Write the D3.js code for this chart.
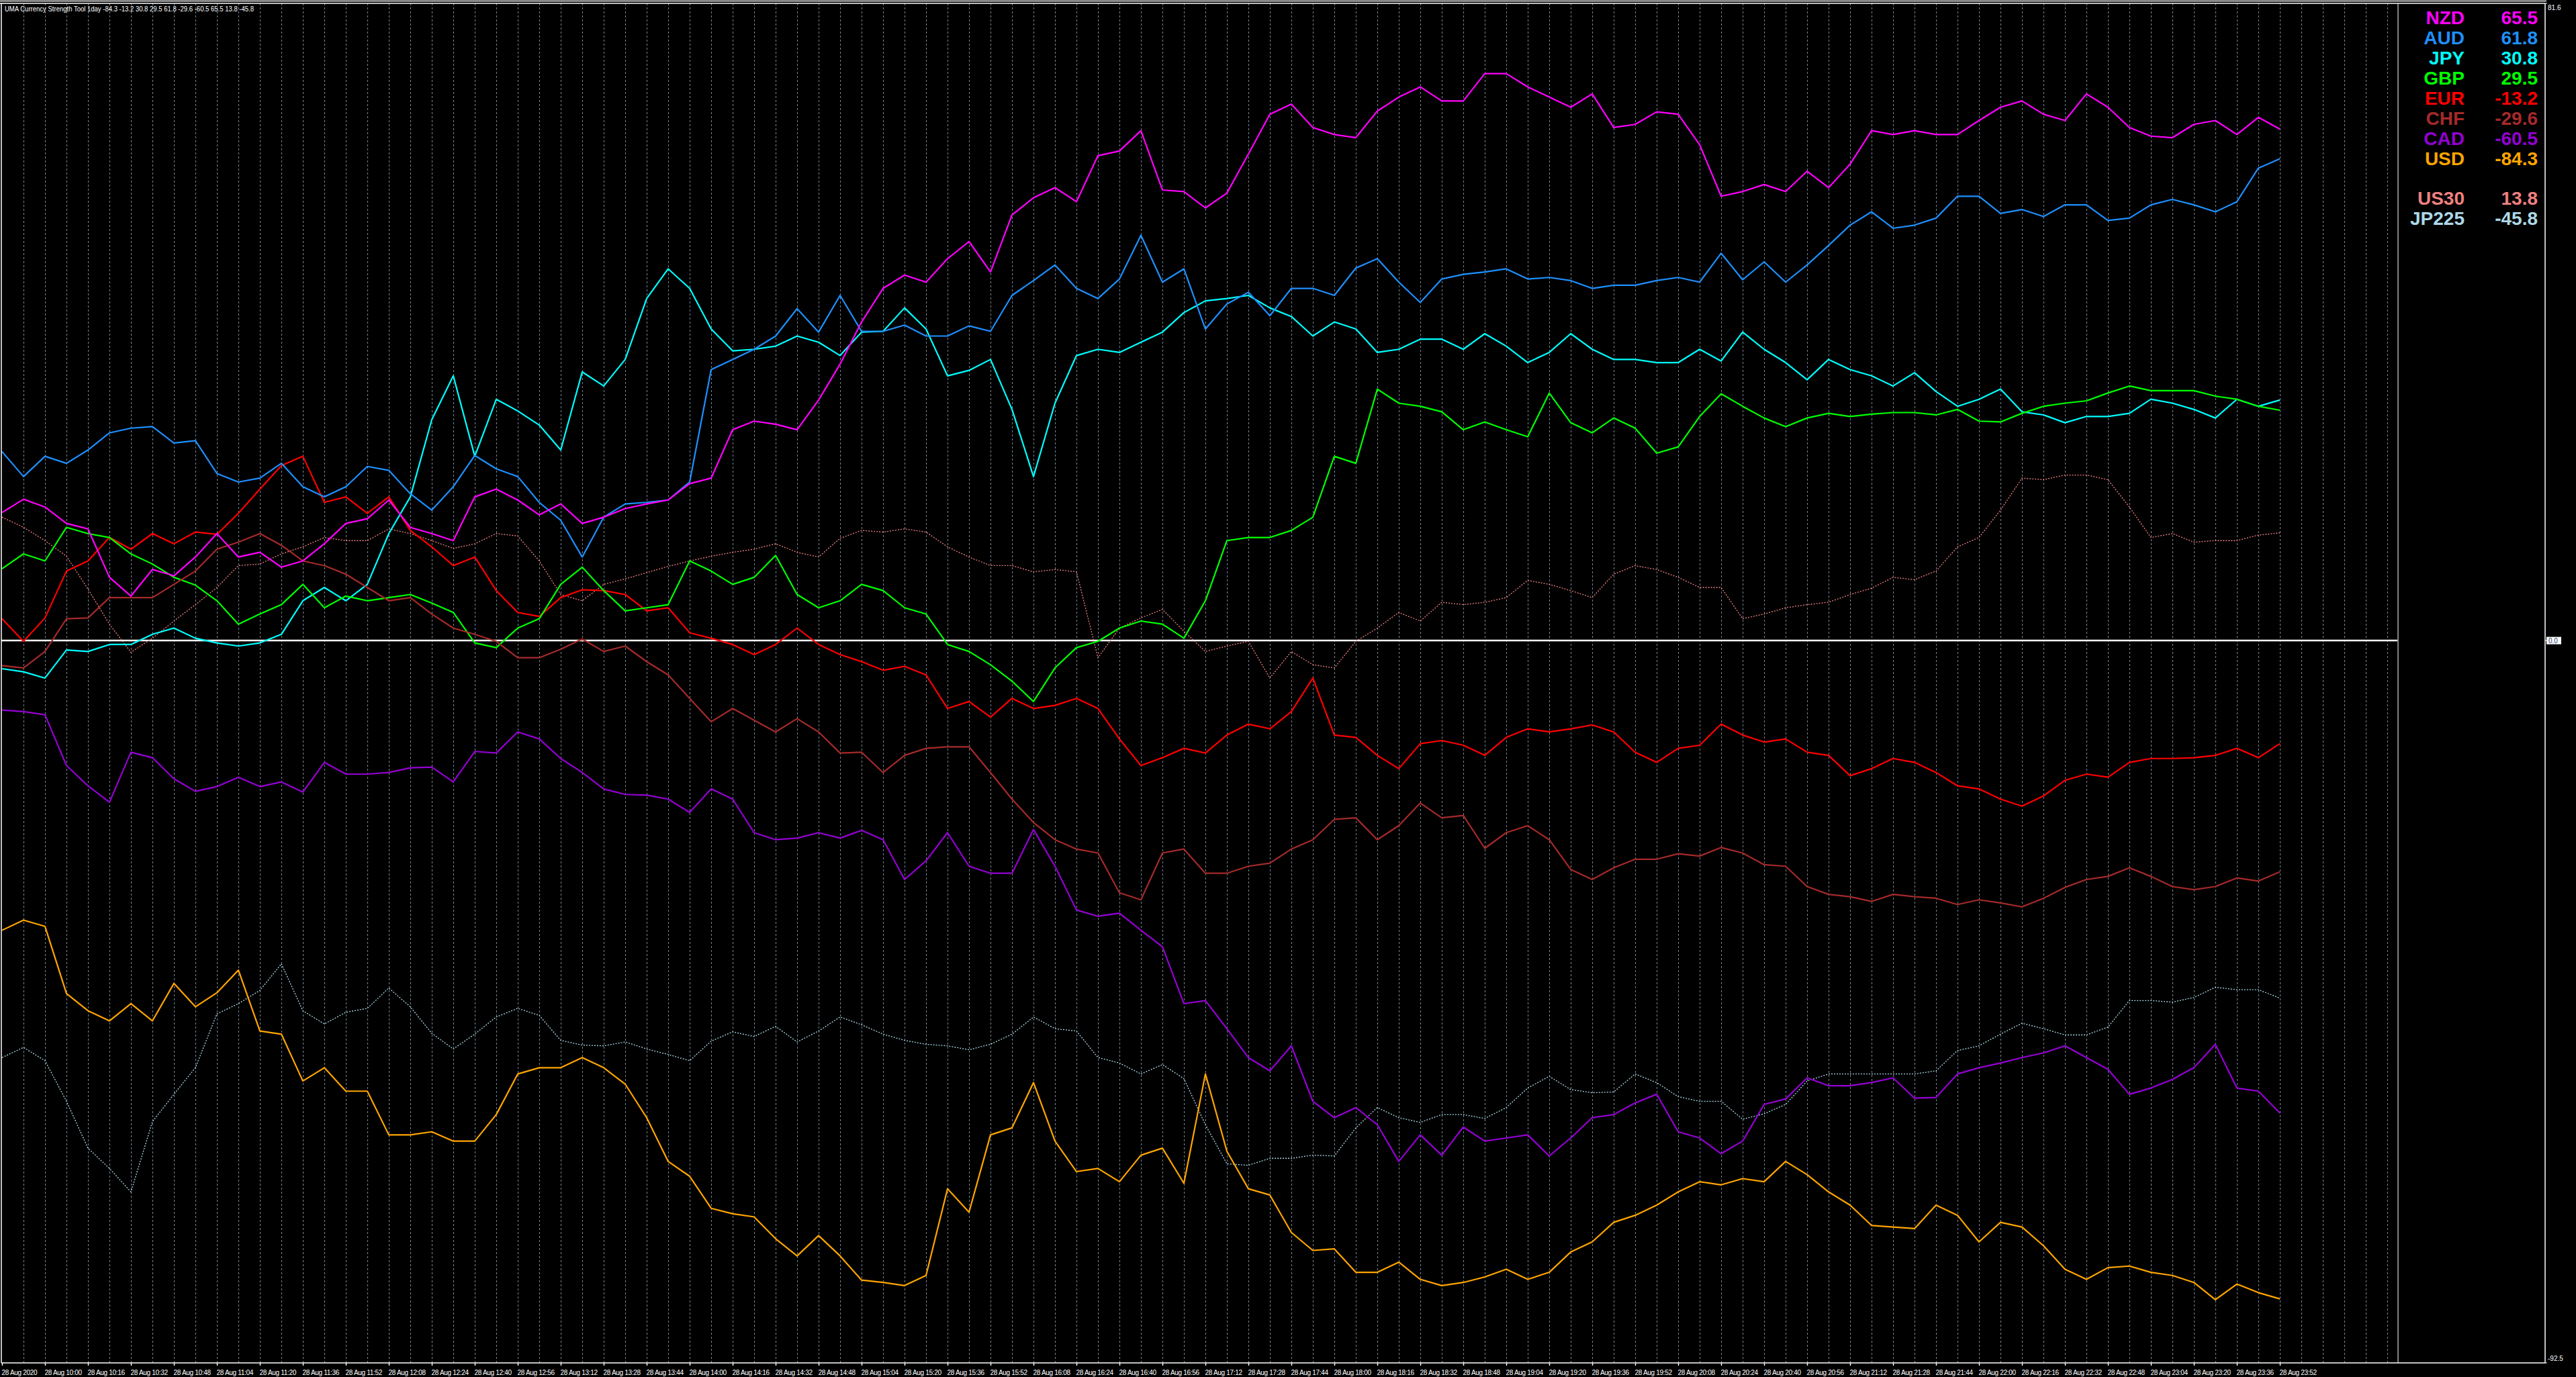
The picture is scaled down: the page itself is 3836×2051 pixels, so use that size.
<!DOCTYPE html>
<html>
<head>
<meta charset="utf-8">
<script src="https://cdn.jsdelivr.net/npm/d3@7"></script>
<style>
  html, body { margin: 0; padding: 0; background: #000; overflow: hidden; }
  svg { display: block; }
</style>
</head>
<body>
<svg id="chart" width="3836" height="2051"></svg>
<script>
// ---------- DATA (sampled every 8 minutes from 28 Aug 2020 09:44) ----------
const startLabel = "28 Aug 2020";
const sampleStepMin = 8;
const tickLabels = ["28 Aug 2020","28 Aug 10:00","28 Aug 10:16","28 Aug 10:32","28 Aug 10:48","28 Aug 11:04","28 Aug 11:20","28 Aug 11:36","28 Aug 11:52","28 Aug 12:08","28 Aug 12:24","28 Aug 12:40","28 Aug 12:56","28 Aug 13:12","28 Aug 13:28","28 Aug 13:44","28 Aug 14:00","28 Aug 14:16","28 Aug 14:32","28 Aug 14:48","28 Aug 15:04","28 Aug 15:20","28 Aug 15:36","28 Aug 15:52","28 Aug 16:08","28 Aug 16:24","28 Aug 16:40","28 Aug 16:56","28 Aug 17:12","28 Aug 17:28","28 Aug 17:44","28 Aug 18:00","28 Aug 18:16","28 Aug 18:32","28 Aug 18:48","28 Aug 19:04","28 Aug 19:20","28 Aug 19:36","28 Aug 19:52","28 Aug 20:08","28 Aug 20:24","28 Aug 20:40","28 Aug 20:56","28 Aug 21:12","28 Aug 21:28","28 Aug 21:44","28 Aug 22:00","28 Aug 22:16","28 Aug 22:32","28 Aug 22:48","28 Aug 23:04","28 Aug 23:20","28 Aug 23:36","28 Aug 23:52"];
const tickStepMin = 16;
const yAxisLabels = [81.6, 0.0, -92.5];

const USD = [-37.1,-35.8,-36.6,-45.2,-47.4,-48.7,-46.5,-48.7,-43.9,-46.9,
-45.1,-42.2,-50.0,-50.4,-56.4,-54.7,-57.7,-57.7,-63.3,-63.3,
-62.9,-64.1,-64.1,-60.7,-55.5,-54.7,-54.7,-53.4,-54.7,-56.8,
-61.1,-66.7,-68.6,-72.7,-73.4,-73.8,-76.6,-78.8,-76.2,-78.8,
-81.9,-82.2,-82.6,-81.3,-70.2,-73.2,-63.3,-62.4,-56.6,-64.1,
-68.0,-67.6,-69.3,-65.9,-65.0,-69.5,-55.5,-65.4,-70.2,-71.0,
-75.8,-78.1,-77.9,-80.9,-80.9,-79.6,-81.8,-82.6,-82.2,-81.5,
-80.5,-81.8,-80.9,-78.3,-77.0,-74.5,-73.6,-72.3,-70.6,-69.3,
-69.7,-68.9,-69.3,-66.7,-68.4,-70.6,-72.3,-74.9,-75.1,-75.3,
-72.3,-73.6,-77.0,-74.5,-75.1,-77.5,-80.5,-81.8,-80.3,-80.1,
-80.9,-81.3,-82.2,-84.4,-82.4,-83.5,-84.3];

const EUR = [2.8,-0.1,2.9,8.9,10.2,13.2,11.7,13.7,12.4,13.9,
13.6,16.3,19.4,22.4,23.6,17.7,18.4,16.3,18.4,14.1,
12.0,9.6,10.7,6.4,3.6,3.1,5.5,6.5,6.4,5.9,
3.8,4.2,1.0,0.3,-0.5,-1.8,-0.5,1.6,-0.5,-1.8,
-2.7,-3.8,-3.3,-4.4,-8.7,-7.8,-9.8,-7.4,-8.7,-8.3,
-7.4,-8.7,-12.6,-16.0,-15.0,-13.8,-14.4,-12.1,-10.7,-11.3,
-9.1,-4.8,-12.1,-12.4,-14.7,-16.4,-13.2,-12.8,-13.4,-14.7,
-12.4,-11.3,-11.7,-11.3,-10.8,-11.7,-14.3,-15.6,-13.8,-13.4,
-10.7,-12.1,-13.0,-12.6,-14.3,-14.7,-17.3,-16.4,-15.1,-15.6,
-16.9,-18.6,-19.0,-20.3,-21.2,-19.9,-17.9,-17.1,-17.5,-15.6,
-15.1,-15.1,-15.0,-14.7,-13.8,-15.0,-13.2];

const JPY = [-3.6,-4.0,-4.8,-1.2,-1.4,-0.5,-0.5,0.8,1.6,0.3,
-0.3,-0.7,-0.3,0.8,5.1,6.8,5.1,7.2,13.7,18.4,
28.3,33.9,23.6,30.9,29.4,27.6,24.4,34.4,32.6,36.0,
43.8,47.6,45.1,39.9,37.1,37.3,37.7,39.0,38.2,36.5,
39.5,39.6,42.6,39.9,33.9,34.6,36.0,29.6,21.0,30.4,
36.5,37.3,36.9,38.2,39.5,42.0,43.5,43.8,44.2,42.6,
41.5,39.0,40.8,39.9,36.9,37.3,38.6,38.6,37.3,39.3,
37.7,35.6,36.9,39.3,37.3,36.0,36.0,35.6,35.6,37.3,
35.8,39.5,37.3,35.6,33.4,36.0,34.7,33.9,32.6,34.3,
31.9,30.0,30.9,32.2,29.3,28.9,27.9,28.7,28.7,29.1,
30.9,30.4,29.6,28.5,30.9,30.0,30.8];

const GBP = [9.2,11.1,10.2,14.5,13.7,13.2,11.1,9.8,8.1,7.1,
5.1,2.1,3.4,4.6,7.2,4.2,5.7,5.1,5.5,5.9,
4.8,3.6,-0.3,-0.9,1.6,2.8,7.2,9.4,6.4,3.8,
4.2,4.6,10.2,8.9,7.2,8.1,10.9,5.9,4.2,5.1,
7.2,6.4,4.2,3.4,-0.5,-1.4,-3.1,-5.2,-7.8,-3.5,
-0.9,-0.1,1.6,2.5,2.1,0.3,5.1,12.8,13.2,13.2,
14.1,15.8,23.6,22.7,32.2,30.4,30.0,29.3,27.0,28.0,
27.0,26.1,31.7,27.9,26.6,28.5,27.2,24.0,24.8,28.7,
31.6,30.0,28.5,27.4,28.5,29.1,28.7,29.0,29.2,29.2,
28.9,29.6,28.1,28.0,29.1,30.0,30.4,30.7,31.7,32.6,
32.0,32.0,32.0,31.3,30.9,30.0,29.5];

const AUD = [24.2,21.0,23.6,22.7,24.4,26.6,27.2,27.4,25.3,25.6,
21.4,20.3,20.8,22.7,19.7,18.4,19.7,22.3,21.8,18.8,
16.7,19.7,23.7,22.0,21.0,17.7,15.4,10.7,15.8,17.5,
17.7,18.0,20.3,34.7,36.0,37.3,39.0,42.5,39.5,44.2,
39.6,39.6,40.4,39.0,39.0,40.3,39.6,44.2,46.1,48.1,
45.1,43.8,46.3,51.9,45.9,47.6,39.9,43.1,44.6,41.6,
45.1,45.1,44.2,47.7,48.9,45.9,43.3,46.3,46.9,47.2,
47.6,46.3,46.5,46.1,45.1,45.5,45.5,46.1,46.5,45.9,
49.6,46.2,48.5,45.9,48.1,50.6,53.2,54.9,52.8,53.2,
54.1,56.9,56.9,54.7,55.2,54.3,55.8,55.8,53.8,54.1,
55.8,56.5,55.8,54.9,56.2,60.5,61.7];

const CHF = [-3.2,-3.5,-1.4,2.8,2.9,5.5,5.5,5.5,7.2,8.9,
11.7,12.6,13.7,12.2,10.2,9.6,8.5,6.8,5.1,5.5,
3.4,1.6,0.8,-0.1,-2.2,-2.2,-1.1,0.2,-1.4,-0.7,
-2.7,-4.4,-7.4,-10.4,-8.7,-10.2,-11.7,-10.0,-11.7,-14.4,
-14.3,-16.9,-14.7,-13.8,-13.6,-13.6,-16.9,-20.3,-23.3,-25.5,
-26.7,-27.2,-32.3,-33.2,-27.2,-26.7,-29.8,-29.8,-28.9,-28.5,
-26.7,-25.5,-22.9,-22.7,-25.5,-23.7,-20.8,-22.7,-22.4,-26.6,
-24.6,-23.7,-25.5,-29.3,-30.6,-29.1,-28.0,-28.0,-27.3,-27.6,
-26.5,-27.2,-28.7,-28.9,-31.5,-32.5,-32.8,-33.4,-32.5,-32.8,
-33.0,-33.8,-33.2,-33.6,-34.1,-33.0,-31.6,-30.6,-30.2,-29.1,
-30.2,-31.5,-31.9,-31.5,-30.4,-30.8,-29.6];

const CAD = [-8.9,-9.1,-9.5,-16.0,-18.6,-20.7,-14.3,-15.0,-17.7,-19.3,
-18.7,-17.5,-18.7,-18.1,-19.4,-15.6,-17.1,-17.1,-16.9,-16.3,
-16.2,-18.1,-14.2,-14.4,-11.7,-12.6,-15.1,-16.9,-19.0,-19.7,
-19.8,-20.3,-22.0,-19.0,-20.3,-24.6,-25.5,-25.3,-24.6,-25.3,
-24.3,-25.5,-30.6,-28.2,-24.6,-28.9,-29.8,-29.8,-24.2,-28.9,
-34.5,-35.3,-34.9,-37.1,-39.2,-46.5,-46.1,-49.7,-53.4,-55.1,
-51.9,-59.0,-61.1,-59.8,-62.0,-66.7,-63.3,-65.9,-62.3,-64.1,
-63.7,-63.3,-66.0,-63.7,-61.1,-60.7,-59.2,-58.1,-62.9,-63.7,
-65.7,-64.1,-59.4,-58.7,-56.0,-57.0,-57.0,-56.6,-56.0,-58.6,
-58.5,-55.5,-54.7,-54.1,-53.4,-52.8,-51.9,-53.4,-54.9,-58.1,
-57.3,-56.2,-54.7,-51.7,-57.3,-57.7,-60.5];

const NZD = [16.4,18.1,17.1,15.0,14.3,8.1,5.7,9.1,8.3,10.7,
13.7,10.7,11.3,9.4,10.2,12.4,15.0,15.6,18.0,14.5,
13.7,12.8,18.4,19.4,18.0,16.1,17.5,15.0,15.8,16.9,
17.5,18.0,20.1,20.8,27.0,28.1,27.7,27.0,30.8,35.4,
40.8,45.1,46.8,45.9,48.9,51.1,47.2,54.5,56.7,58.0,
56.2,62.1,62.7,65.3,57.7,57.5,55.4,57.3,62.3,67.4,
68.7,65.7,64.8,64.4,67.8,69.6,70.9,69.1,69.1,72.6,
72.6,70.9,69.6,68.3,70.0,65.7,66.1,67.7,67.4,63.5,
56.9,57.5,58.4,57.5,60.1,58.0,61.0,65.3,64.8,65.3,
64.8,64.8,66.6,68.3,69.1,67.4,66.6,70.0,68.3,65.7,
64.6,64.4,66.1,66.6,64.8,67.0,65.5];

const US30 = [15.8,14.5,12.8,10.8,6.6,2.1,-1.5,0.3,2.5,4.6,
6.8,9.6,9.8,11.1,12.0,13.2,12.8,12.8,14.3,13.7,
12.8,11.8,12.4,13.7,13.4,10.2,5.9,5.1,7.2,7.9,
8.7,9.5,10.2,10.8,11.3,11.7,12.4,11.3,10.7,13.1,
14.1,13.9,14.3,13.9,12.0,10.7,9.6,9.6,8.8,9.1,
8.8,-2.2,1.6,2.9,4.0,1.2,-1.4,-0.7,-0.1,-4.8,
-1.4,-3.1,-3.5,-0.1,1.6,3.6,2.5,4.9,4.6,4.9,
5.5,7.7,7.2,6.4,5.5,8.5,9.6,9.1,8.1,6.8,
6.8,2.8,3.4,4.2,4.6,4.9,5.9,6.7,8.1,7.8,
8.9,12.0,13.2,16.7,20.8,20.6,21.2,21.2,20.6,17.1,
13.2,13.7,12.6,12.8,12.8,13.5,13.8];

const JP225 = [-53.4,-52.1,-53.8,-59.0,-65.0,-67.6,-70.6,-61.6,-58.1,-54.7,
-47.8,-46.5,-44.8,-41.4,-47.4,-49.1,-47.6,-47.1,-44.5,-46.9,
-50.3,-52.3,-50.4,-48.2,-47.1,-48.0,-51.2,-51.8,-51.9,-51.4,
-52.3,-53.0,-53.8,-51.3,-50.1,-50.7,-49.4,-51.4,-50.0,-48.2,
-49.2,-50.4,-51.2,-51.7,-51.9,-52.4,-51.7,-50.4,-48.2,-49.7,
-50.0,-53.4,-54.1,-55.5,-54.3,-56.1,-62.0,-67.0,-67.2,-66.3,
-66.3,-65.9,-66.0,-62.4,-59.8,-61.1,-61.7,-60.7,-60.7,-61.2,
-59.8,-57.3,-55.8,-57.5,-57.9,-57.8,-55.5,-56.6,-58.4,-59.0,
-59.0,-61.3,-60.6,-59.4,-56.4,-55.5,-55.5,-55.5,-55.5,-55.5,
-55.1,-52.5,-51.9,-50.4,-49.0,-49.7,-50.5,-50.5,-49.5,-46.1,
-46.1,-46.3,-45.7,-44.4,-44.7,-44.7,-45.8];

// legend (name, shown value) in display order
const legendNames  = ["NZD","AUD","JPY","GBP","EUR","CHF","CAD","USD","US30","JP225"];
const legendValues = ["65.5","61.8","30.8","29.5","-13.2","-29.6","-60.5","-84.3","13.8","-45.8"];
const titleText = "UMA Currency Strength Tool 1day -84.3 -13.2 30.8 29.5 61.8 -29.6 -60.5 65.5 13.8 -45.8";

// ---------- STYLE ----------
const colors = {
  NZD: "#ff00ff", AUD: "#1e90ff", JPY: "#00ffff", GBP: "#00ff00", EUR: "#ff0000",
  CHF: "#a52a2a", CAD: "#9400d3", USD: "#ffa500", US30: "#f08080", JP225: "#add8e6"
};
const mainSeries = [
  {name:"USD", data:USD}, {name:"EUR", data:EUR}, {name:"JPY", data:JPY}, {name:"GBP", data:GBP},
  {name:"AUD", data:AUD}, {name:"CHF", data:CHF}, {name:"CAD", data:CAD}, {name:"NZD", data:NZD}
];
const dottedSeries = [{name:"US30", data:US30}, {name:"JP225", data:JP225}];

const W = 3836, H = 2051;
const plotLeft = 2, plotRight = 3790, plotTop = 5, plotBottom = 2030;
const shiftX = 3571;           // chart shift separator
const endMinute = 892;         // minute at the separator

const svg = d3.select("#chart");
svg.append("rect").attr("width", W).attr("height", H).attr("fill", "#000");

const x = d3.scaleLinear().domain([0, endMinute]).range([3, shiftX]);
const y = d3.scaleLinear().domain([-92.5, 81.6]).range([plotBottom, plotTop]);

// vertical dashed grid
const gridMinutes = d3.range(sampleStepMin, endMinute, sampleStepMin);
svg.append("g").selectAll("line").data(gridMinutes).join("line")
  .attr("x1", d => Math.round(x(d)) + 0.5).attr("x2", d => Math.round(x(d)) + 0.5)
  .attr("y1", plotTop).attr("y2", plotBottom)
  .attr("stroke", "#778899").attr("stroke-width", 1).attr("stroke-dasharray", "3,3");

// zero line
svg.append("line")
  .attr("x1", plotLeft).attr("x2", shiftX).attr("y1", y(0)).attr("y2", y(0))
  .attr("stroke", "#ffffff").attr("stroke-width", 2.5);

// shift separator
svg.append("line")
  .attr("x1", shiftX).attr("x2", shiftX).attr("y1", plotTop).attr("y2", plotBottom)
  .attr("stroke", "#808080").attr("stroke-width", 2);

// series
const lineGen = d3.line()
  .x((d, i) => x(i * sampleStepMin))
  .y(d => y(d));

svg.append("g").selectAll("path").data(dottedSeries).join("path")
  .attr("d", d => lineGen(d.data))
  .attr("fill", "none").attr("stroke", d => colors[d.name])
  .attr("stroke-width", 1.3).attr("stroke-dasharray", "2,2");

svg.append("g").selectAll("path").data(mainSeries).join("path")
  .attr("d", d => lineGen(d.data))
  .attr("fill", "none").attr("stroke", d => colors[d.name])
  .attr("stroke-width", 2.2).attr("stroke-linejoin", "round");

// frame
const frame = svg.append("g").attr("stroke", "#ffffff").attr("stroke-width", 1.5);
frame.append("line").attr("x1", 0).attr("x2", plotRight + 2).attr("y1", 1.5).attr("y2", 1.5);
frame.append("line").attr("x1", 0).attr("x2", plotRight).attr("y1", plotTop).attr("y2", plotTop);
frame.append("line").attr("x1", plotLeft).attr("x2", plotLeft).attr("y1", plotTop).attr("y2", plotBottom);
frame.append("line").attr("x1", plotRight).attr("x2", plotRight).attr("y1", plotTop).attr("y2", plotBottom);
frame.append("line").attr("x1", plotLeft).attr("x2", plotRight).attr("y1", plotBottom).attr("y2", plotBottom);

// bottom axis
const tickMinutes = tickLabels.map((t, i) => i * tickStepMin);
const xAxis = d3.axisBottom(x).tickValues(tickMinutes).tickSize(4).tickPadding(6)
  .tickFormat((d, i) => tickLabels[i]);
const gx = svg.append("g").attr("transform", `translate(0,${plotBottom})`).call(xAxis);
gx.select(".domain").remove();
gx.selectAll(".tick line").attr("stroke", "#fff").attr("stroke-width", 1.5);
gx.selectAll(".tick text")
  .attr("fill", "#fff").attr("text-anchor", "start").attr("dx", -1).attr("y", 18)
  .attr("dy", 0)
  .style("font-family", "'Liberation Sans', Arial, sans-serif")
  .style("font-size", "10px").style("letter-spacing", "-0.3px");

// right axis labels
const ry = svg.append("g");
yAxisLabels.forEach(v => {
  const yy = y(v);
  ry.append("line").attr("x1", plotRight).attr("x2", plotRight + 3).attr("y1", yy).attr("y2", yy)
    .attr("stroke", "#fff").attr("stroke-width", 1);
  if (v === 0) {
    ry.append("rect").attr("x", plotRight + 2).attr("y", yy - 5.5).attr("width", 22).attr("height", 11)
      .attr("fill", "#ffffff");
    ry.append("text").attr("x", plotRight + 5).attr("y", yy + 4).text(v.toFixed(1))
      .attr("fill", "#1a3a6a").style("font-family", "'Liberation Sans', Arial, sans-serif").style("font-size", "10px");
  } else {
    const ty = v > 0 ? yy + 10 : yy - 3;
    ry.append("text").attr("x", plotRight + 4).attr("y", ty).text(v.toFixed(1))
      .attr("fill", "#fff").style("font-family", "'Liberation Sans', Arial, sans-serif").style("font-size", "10px");
  }
});

// title
svg.append("text").attr("x", 7).attr("y", 17).text(titleText)
  .attr("fill", "#fff").attr("textLength", 371).attr("lengthAdjust", "spacingAndGlyphs")
  .style("font-family", "'Liberation Sans', Arial, sans-serif").style("font-size", "11px");

// legend
const legendY = [36, 66, 96, 126, 156, 186, 216, 246, 305, 335];
const lg = svg.append("g").style("font-family", "'Liberation Sans', Arial, sans-serif")
  .style("font-size", "28px").style("font-weight", "bold");
legendNames.forEach((n, i) => {
  lg.append("text").attr("x", 3670).attr("y", legendY[i]).attr("text-anchor", "end")
    .attr("fill", colors[n]).text(n);
  lg.append("text").attr("x", 3779).attr("y", legendY[i]).attr("text-anchor", "end")
    .attr("fill", colors[n]).text(legendValues[i]);
});
</script>
</body>
</html>
